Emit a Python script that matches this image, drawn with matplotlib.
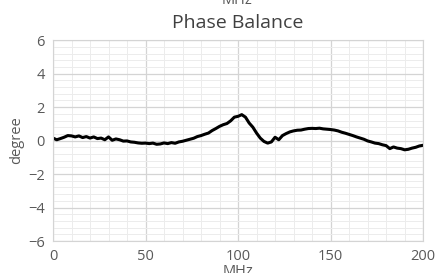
import numpy as np
import matplotlib
matplotlib.use("Agg")
import matplotlib.pyplot as plt
from matplotlib.ticker import MultipleLocator

# Data (frequency in MHz, phase balance in degree)
freq = np.arange(0, 201, 2)
phase = [0.15, 0.05, 0.12, 0.20, 0.30, 0.28, 0.22, 0.28, 0.18, 0.24,
         0.15, 0.22, 0.12, 0.15, 0.05, 0.22, 0.02, 0.10, 0.05, -0.03,
         -0.02, -0.08, -0.10, -0.14, -0.16, -0.15, -0.18, -0.15, -0.22, -0.20,
         -0.14, -0.18, -0.12, -0.16, -0.08, -0.04, 0.02, 0.08, 0.14, 0.24,
         0.30, 0.38, 0.45, 0.60, 0.72, 0.85, 0.95, 1.02, 1.18, 1.40,
         1.45, 1.55, 1.40, 1.05, 0.80, 0.45, 0.15, -0.05, -0.15, -0.08,
         0.20, 0.05, 0.30, 0.42, 0.52, 0.58, 0.62, 0.63, 0.68, 0.72,
         0.73, 0.72, 0.74, 0.70, 0.68, 0.66, 0.63, 0.58, 0.50, 0.44,
         0.37, 0.30, 0.22, 0.15, 0.08, -0.02, -0.08, -0.15, -0.18, -0.25,
         -0.30, -0.48, -0.38, -0.45, -0.48, -0.55, -0.52, -0.45, -0.40, -0.32,
         -0.28]

title = "Phase Balance"
xlabel = "MHz"
ylabel = "degree"

plt.rcParams['font.family'] = ['Open Sans', 'DejaVu Sans']

fig = plt.figure(figsize=(4.38, 2.73), dpi=100)
ax = fig.add_axes([0.121, 0.117, 0.845, 0.736])

ax.plot(freq, phase, color='black', linewidth=2.2)

ax.set_xlim(0, 200)
ax.set_ylim(-6, 6)
ax.xaxis.set_major_locator(MultipleLocator(50))
ax.xaxis.set_minor_locator(MultipleLocator(10))
ax.yaxis.set_major_locator(MultipleLocator(2))
ax.yaxis.set_minor_locator(MultipleLocator(0.4))
ax.grid(which='major', color='#d4d4d4', linewidth=0.9)
ax.grid(which='minor', color='#ececec', linewidth=0.7)
ax.set_axisbelow(True)
for s in ax.spines.values():
    s.set_color('#d4d4d4')
ax.tick_params(which='both', length=0, colors='#595959', labelsize=10.5, pad=6)

ax.set_title(title, fontsize=14, color='#404040', pad=9)
ax.set_xlabel(xlabel, fontsize=10.5, color='#595959', labelpad=0)
ax.set_ylabel(ylabel, fontsize=10.5, color='#595959', labelpad=3)
fig.text(0.54, 1.0, xlabel, ha='center', va='center', fontsize=10.5, color='#595959')

fig.savefig("out.png", dpi=100)
